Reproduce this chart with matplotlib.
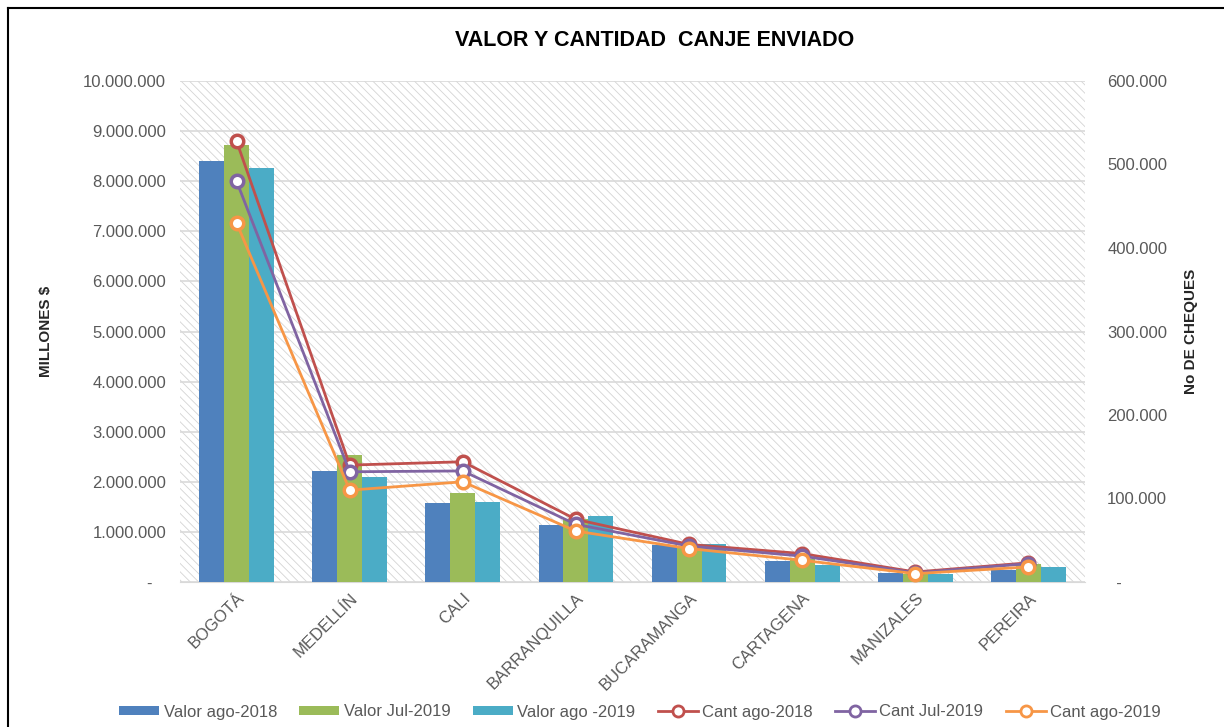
import matplotlib
matplotlib.use("Agg")
import matplotlib.pyplot as plt
import numpy as np
from matplotlib.patches import Rectangle
from matplotlib.lines import Line2D

plt.rcParams['font.family'] = ['Liberation Sans', 'DejaVu Sans']

categories = ["BOGOTÁ", "MEDELLÍN", "CALI", "BARRANQUILLA", "BUCARAMANGA",
              "CARTAGENA", "MANIZALES", "PEREIRA"]
valor_ago2018 = [8400000, 2220000, 1580000, 1140000, 730000, 410000, 180000, 240000]
valor_jul2019 = [8720000, 2530000, 1780000, 1250000, 700000, 450000, 150000, 360000]
valor_ago2019 = [8260000, 2100000, 1600000, 1320000, 760000, 340000, 160000, 300000]
cant_ago2018 = [528000, 140000, 144000, 75000, 45000, 34000, 12000, 23000]
cant_jul2019 = [480000, 132000, 133000, 69000, 43000, 31000, 11000, 22000]
cant_ago2019 = [430000, 110000, 120000, 61000, 40000, 26000, 10000, 18000]

left_ticks = list(range(0, 10000001, 1000000))
right_ticks = list(range(0, 600001, 100000))

def fmt(v):
    return "-   " if v == 0 else f"{v:,}".replace(",", ".")

def fmt_r(v):
    return "  -" if v == 0 else f"{v:,}".replace(",", ".")

c_blue, c_green, c_teal = "#4F81BD", "#9BBB59", "#4BACC6"
c_red, c_purple, c_orange = "#C0504D", "#8064A2", "#F79646"
gray = "#595959"

fig = plt.figure(figsize=(12.24, 7.27), dpi=100)
ax = fig.add_axes([180/1224, 1-582/727, 905/1224, 501/727])
ax2 = ax.twinx()

# hatched background
plt.rcParams['hatch.linewidth'] = 0.6
bg = Rectangle((0, 0), 1, 1, transform=ax.transAxes, facecolor="white",
               edgecolor="#d4d4d4", hatch="\\\\\\\\", linewidth=0, zorder=0)
ax.add_patch(bg)
ax.set_facecolor("white")

x = np.arange(len(categories))
w = 0.22
ax.bar(x - w, valor_ago2018, w, color=c_blue, zorder=3, label="Valor ago-2018")
ax.bar(x, valor_jul2019, w, color=c_green, zorder=3, label="Valor Jul-2019")
ax.bar(x + w, valor_ago2019, w, color=c_teal, zorder=3, label="Valor ago -2019")

ax.set_xlim(-0.5, len(categories) - 0.5)
ax.set_ylim(0, 10000000)
ax.set_yticks(left_ticks)
ax.set_yticklabels([fmt(v) for v in left_ticks])
ax.yaxis.grid(True, color="#d9d9d9", linewidth=1.2, zorder=1)
ax.set_axisbelow(True)

for s in ax.spines.values():
    s.set_visible(False)
for s in ax2.spines.values():
    s.set_visible(False)
ax.spines['bottom'].set_visible(True)
ax.spines['bottom'].set_color("#d9d9d9")

ax.tick_params(axis='y', length=0, labelsize=12, colors=gray, pad=10)
ax.tick_params(axis='x', length=0, labelsize=12, colors=gray, pad=6)
ax.set_xticks(x)
ax.set_xticklabels(categories, rotation=45, ha="right", rotation_mode="anchor")

ms = 9
for vals, col, lab in [(cant_ago2018, c_red, "Cant ago-2018"),
                       (cant_jul2019, c_purple, "Cant Jul-2019"),
                       (cant_ago2019, c_orange, "Cant ago-2019")]:
    ax2.plot(x, vals, color=col, linewidth=2, marker="o", markersize=ms,
             markerfacecolor="white", markeredgecolor=col, markeredgewidth=2.5,
             label=lab, zorder=4)
ax2.set_ylim(0, 600000)
ax2.set_yticks(right_ticks)
ax2.set_yticklabels([fmt_r(v) for v in right_ticks])
ax2.tick_params(axis='y', length=0, labelsize=12, colors=gray, pad=16)

ax.set_ylabel("MILLONES $", fontsize=11, fontweight="bold", color="#262626", labelpad=22)
ax2.set_ylabel("No DE CHEQUES", fontsize=11, fontweight="bold", color="#262626", labelpad=12)

fig.text(655/1224, 1-40/727, "VALOR Y CANTIDAD  CANJE ENVIADO", ha="center", va="center",
         fontsize=15.5, fontweight="bold", color="black")

h1, l1 = ax.get_legend_handles_labels()
h2, l2 = ax2.get_legend_handles_labels()
handles = []
for c in [c_blue, c_green, c_teal]:
    handles.append(Rectangle((0, 0), 1, 1, facecolor=c, edgecolor="none"))
for c in [c_red, c_purple, c_orange]:
    handles.append(Line2D([], [], color=c, linewidth=2, marker="o", markersize=8,
                          markerfacecolor="white", markeredgecolor=c, markeredgewidth=2))
fig.legend(handles, l1 + l2, loc="center", bbox_to_anchor=(640/1224, 1-712/727),
           ncol=6, frameon=False, fontsize=12, handlelength=2.4, handleheight=0.5,
           columnspacing=1.35, handletextpad=0.25, labelcolor=gray)

# outer border
fig.add_artist(Line2D([8/1224, 1], [1-8/727, 1-8/727], transform=fig.transFigure, color="black", linewidth=1.5))
fig.add_artist(Line2D([8/1224, 8/1224], [0, 1-8/727], transform=fig.transFigure, color="black", linewidth=1.5))

fig.savefig("out.png", dpi=100)
